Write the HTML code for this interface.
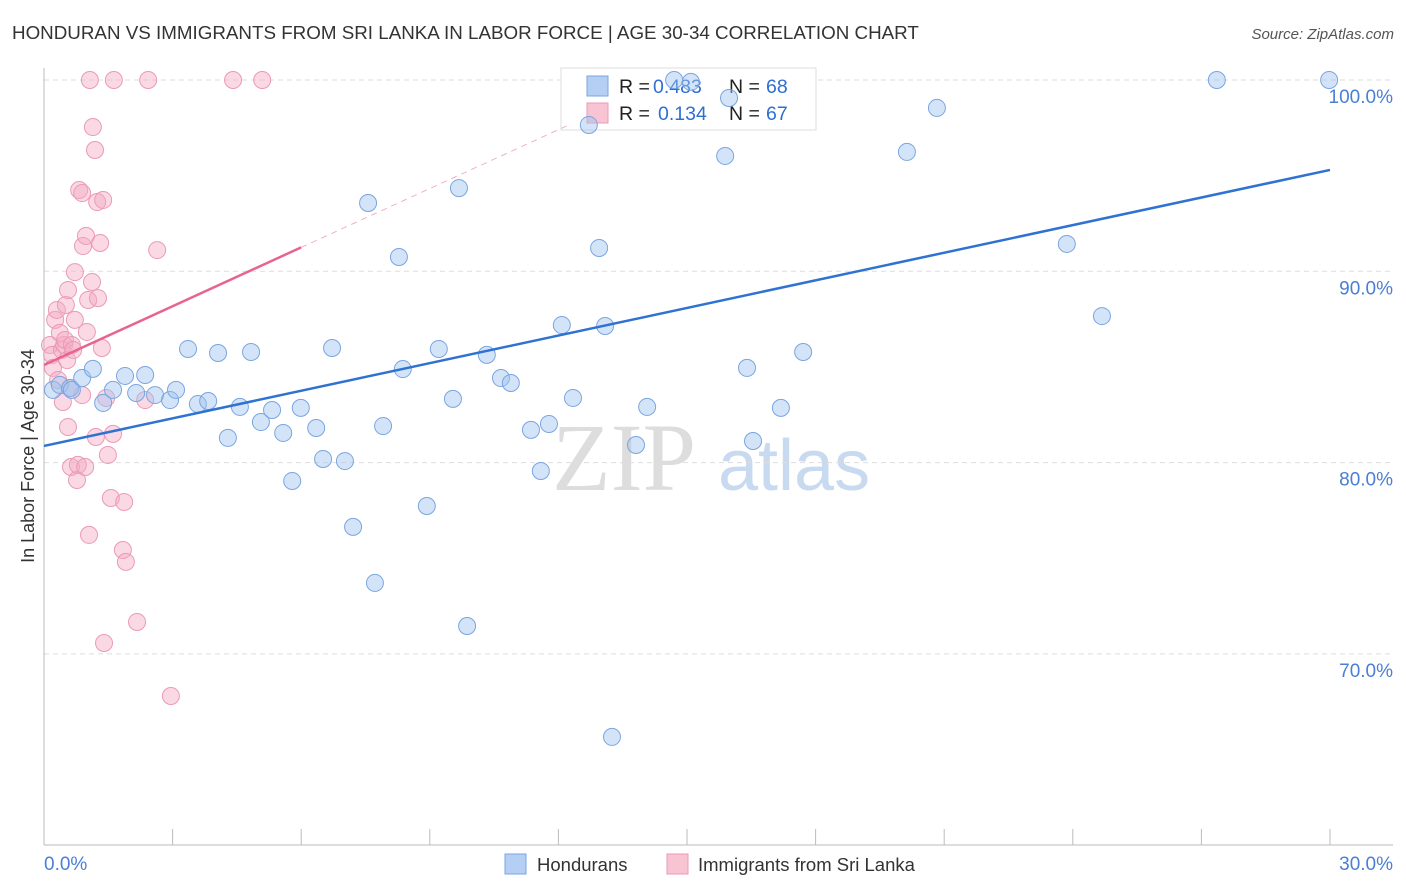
<!DOCTYPE html>
<html><head><meta charset="utf-8"><style>
body{margin:0;background:#fff;font-family:"Liberation Sans",sans-serif}
svg{display:block}
</style></head><body>
<svg id="c" width="1406" height="892" font-family="Liberation Sans, sans-serif">
<text x="12" y="39" font-size="18.8" fill="#333">HONDURAN VS IMMIGRANTS FROM SRI LANKA IN LABOR FORCE | AGE 30-34 CORRELATION CHART</text>
<text x="1394" y="39" font-size="15" fill="#555" font-style="italic" text-anchor="end">Source: ZipAtlas.com</text>
<g><text x="552" y="490" font-size="96" fill="#ddd" font-family="Liberation Serif, serif">ZIP</text><text x="718" y="490" font-size="72" fill="#c8daf0">atlas</text></g>
<g id="grid"></g>
<g id="axes"></g>
<g>
<rect x="561" y="68" width="255" height="62" fill="#fff" stroke="#ddd"/>
<rect x="587" y="76" width="21" height="20" fill="#b4cff3" stroke="#7aa5e0"/>
<rect x="587" y="103" width="21" height="20" fill="#f8c4d4" stroke="#eb9ab5"/>
<text x="619" y="93" font-size="19.5" fill="#222">R =</text>
<text x="653" y="93" font-size="19.5" fill="#2f6fd0">0.483</text>
<text x="729" y="93" font-size="19.5" fill="#222">N =</text>
<text x="766" y="93" font-size="19.5" fill="#2f6fd0">68</text>
<text x="619" y="120" font-size="19.5" fill="#222">R =</text>
<text x="658" y="120" font-size="19.5" fill="#2f6fd0">0.134</text>
<text x="729" y="120" font-size="19.5" fill="#222">N =</text>
<text x="766" y="120" font-size="19.5" fill="#2f6fd0">67</text>
</g>
<g id="marks"></g>
<text transform="translate(34,456) rotate(-90)" font-size="18" fill="#333" text-anchor="middle">In Labor Force | Age 30-34</text>
<g>
<rect x="505" y="854" width="21" height="20" fill="#b4cff3" stroke="#7aa5e0"/>
<text x="537" y="871" font-size="18.5" fill="#333">Hondurans</text>
<rect x="667" y="854" width="21" height="20" fill="#f8c4d4" stroke="#eb9ab5"/>
<text x="698" y="871" font-size="18.5" fill="#333">Immigrants from Sri Lanka</text>
</g>
</svg>
<script>
const blueX=[0.21,0.37,0.61,0.65,0.89,1.14,1.38,1.61,1.89,2.15,2.36,2.59,2.94,3.08,3.36,3.59,3.83,4.06,4.29,4.57,4.83,5.06,5.32,5.58,5.79,5.99,6.35,6.51,6.72,7.02,7.21,7.56,7.72,7.91,8.28,8.37,8.93,9.21,9.54,9.68,9.87,10.33,10.66,10.89,11.36,11.59,11.78,12.08,12.34,12.71,12.95,13.09,13.25,13.81,14.07,14.70,15.09,15.89,15.98,16.40,16.54,17.19,17.71,20.13,20.83,23.86,24.68,27.36,29.98];
const blueY=[83.80,84.06,83.90,83.80,84.42,84.90,83.12,83.80,84.53,83.64,84.58,83.53,83.27,83.80,85.94,83.06,83.22,85.73,81.29,82.91,85.78,82.12,82.75,81.55,79.04,82.86,81.81,80.19,85.99,80.08,76.64,93.57,73.71,81.91,90.75,84.89,77.73,85.94,83.33,94.35,71.46,85.63,84.42,84.16,81.71,79.56,82.02,87.19,83.38,97.65,91.22,87.14,65.66,80.92,82.91,100,99.9,96.03,99.06,84.95,81.13,82.86,85.78,96.24,98.54,91.43,87.66,100,100];
const pinkX=[0.14,0.19,0.21,0.26,0.30,0.33,0.37,0.42,0.44,0.47,0.49,0.51,0.54,0.56,0.56,0.61,0.63,0.65,0.68,0.72,0.72,0.77,0.79,0.82,0.89,0.89,0.91,0.96,0.98,1.00,1.03,1.05,1.07,1.12,1.14,1.19,1.21,1.24,1.26,1.31,1.35,1.38,1.40,1.45,1.49,1.56,1.61,1.63,1.84,1.87,1.91,2.17,2.36,2.43,2.64,2.96,4.41,5.09];
const pinkY=[86.15,85.63,84.95,87.46,87.98,84.32,86.78,85.89,83.17,86.15,86.41,88.24,85.36,81.86,89.02,83.90,79.77,86.15,85.89,89.96,87.46,79.09,79.88,94.25,94.09,83.53,91.32,79.77,91.85,86.83,88.50,76.22,100,89.44,97.54,96.34,81.34,93.62,88.60,91.48,85.99,93.73,70.57,83.38,80.40,78.15,81.50,100,75.43,77.94,74.81,71.67,83.27,100,91.11,67.80,100,100];
const blueLine=[80.87,0.481];
const pinkLine=[85.10,1.025];
const yTicks=[100,90,80,70];
const yTickLabels=["100.0%","90.0%","80.0%","70.0%"];
const xTicks=[0,3,6,9,12,15,18,21,24,27,30];

const NS="http://www.w3.org/2000/svg";
const sx=v=>44+v*(1286/30);
const sy=v=>80+(100-v)*19.13;
function mk(tag,a,p){const e=document.createElementNS(NS,tag);for(const k in a)e.setAttribute(k,a[k]);p.appendChild(e);return e;}
const grid=document.getElementById('grid'),axes=document.getElementById('axes'),marks=document.getElementById('marks');
yTicks.forEach((v,i)=>{
 const l=mk('line',{x1:44,x2:1393,y1:sy(v),y2:sy(v),stroke:'#ddd','stroke-dasharray':'5,4'},grid);
 
 
 const t=mk('text',{x:1393,y:sy(v)+23,'font-size':19,fill:'#4a7fd4','text-anchor':'end'},axes);
 t.textContent=yTickLabels[i];
 
 
});
const ya=mk('line',{x1:44,x2:44,y1:68,y2:845,stroke:'#bbb'},axes);


const xa=mk('line',{x1:44,x2:1393,y1:845,y2:845,stroke:'#bbb'},axes);


xTicks.forEach(v=>{const t=mk('line',{x1:sx(v),x2:sx(v),y1:829,y2:845,stroke:'#bbb'},axes);
 
 });
const x0=mk('text',{x:44,y:870,'font-size':19,fill:'#4a7fd4'},axes);x0.textContent='0.0%';


const x1=mk('text',{x:1393,y:870,'font-size':19,fill:'#4a7fd4','text-anchor':'end'},axes);x1.textContent='30.0%';



pinkX.forEach((x,i)=>{const c=mk('circle',{cx:sx(x),cy:sy(pinkY[i]),r:8.5,fill:'rgba(244,170,195,0.45)',stroke:'#eb9ab5','stroke-width':1},marks);
 
 });
blueX.forEach((x,i)=>{const c=mk('circle',{cx:sx(x),cy:sy(blueY[i]),r:8.5,fill:'rgba(160,195,240,0.45)',stroke:'#7aa5e0','stroke-width':1},marks);
 
 });
const bl=mk('line',{x1:sx(0),y1:sy(blueLine[0]),x2:sx(30),y2:sy(blueLine[0]+blueLine[1]*30),stroke:'#2e72d2','stroke-width':2.5},marks);


const pl=mk('line',{x1:sx(0),y1:sy(pinkLine[0]),x2:sx(6),y2:sy(pinkLine[0]+pinkLine[1]*6),stroke:'#e8648f','stroke-width':2.5},marks);


const pd=mk('line',{x1:sx(6),y1:sy(pinkLine[0]+pinkLine[1]*6),x2:sx(12.3),y2:sy(pinkLine[0]+pinkLine[1]*12.3),stroke:'#f0b0c4','stroke-width':1,'stroke-dasharray':'6,5'},marks);


</script>
</body></html>
